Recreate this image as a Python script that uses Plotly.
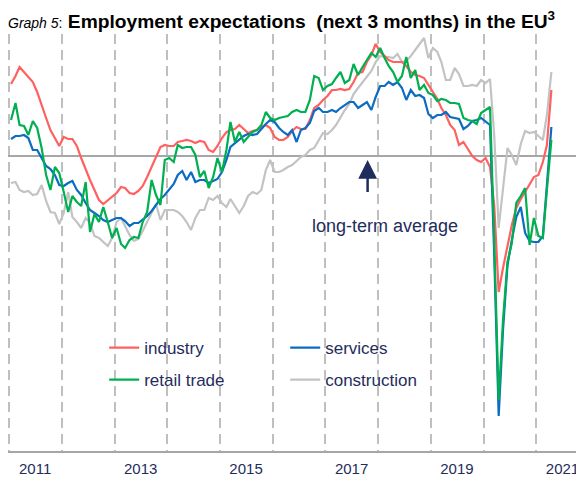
import plotly.graph_objects as go
import pandas as pd

# monthly observations, Jan 2011 - Apr 2021 (plotted mid-month)
months = pd.date_range("2011-01-01", periods=124, freq="MS") + pd.Timedelta(days=14)

# values relative to the long-term average (0)
industry = [
    7.2, 8.0, 8.9, 8.4, 7.9, 7.4, 6.4, 5.2, 3.8, 2.6, 1.8, 1.0,
    1.9, 1.7, 1.7, 1.0, -0.2, -1.4, -2.4, -3.4, -4.4, -4.8, -4.4, -4.1,
    -3.7, -3.1, -3.2, -3.7, -3.8, -3.5, -3.0, -2.1, -1.1, -0.2, 0.9, 1.1,
    1.0, 1.0, 1.4, 1.5, 1.6, 1.5, 1.3, 1.5, 1.4, 0.6, 0.4, 1.0,
    1.8, 2.4, 2.6, 2.7, 3.1, 2.7, 2.3, 2.5, 2.6, 2.9, 3.1, 2.8,
    1.9, 1.6, 1.6, 1.9, 2.5, 2.9, 2.7, 2.7, 3.6, 4.8, 5.1, 5.6,
    6.0, 6.6, 6.6, 6.7, 6.6, 6.7, 7.4, 8.3, 8.4, 9.4, 10.1, 11.2,
    10.4, 10.0, 9.6, 9.4, 9.4, 9.4, 9.0, 8.4, 8.1, 8.0, 7.8, 7.1,
    6.4, 5.7, 4.8, 4.1, 3.1, 2.6, 1.1, 1.4, 0.7, 0.0, -0.4, -0.6,
    -0.2, -1.1, -4.9, -13.6, -11.2, -8.9, -6.9, -5.2, -4.3, -3.6, -2.9, -2.1,
    -1.9, -0.6, 1.1, 6.6,
]
services = [
    1.7, 2.0, 2.0, 2.1, 1.8, 0.6, 0.6, -0.2, -1.0, -1.3, -1.9, -2.9,
    -3.0, -2.7, -2.5, -3.4, -3.9, -4.7, -5.4, -5.7, -6.0, -6.4, -6.6, -6.4,
    -6.2, -6.2, -6.5, -7.0, -6.7, -6.7, -6.4, -6.0, -5.5, -4.9, -4.3, -3.9,
    -3.4, -2.8, -1.9, -1.5, -2.4, -1.6, -2.6, -2.4, -2.4, -2.7, -2.5, -2.3,
    -1.6, -0.4, 0.9, 1.3, 1.6, 2.0, 2.2, 2.1, 2.2, 2.7, 3.2, 3.6,
    3.4, 2.8, 2.4, 2.1, 2.6, 1.4, 2.6, 2.8, 3.3, 4.5, 4.8, 4.4,
    4.4, 4.6, 4.4, 4.8, 5.1, 5.4, 5.4, 4.8, 5.1, 5.4, 4.6, 5.9,
    7.0, 7.0, 7.4, 7.1, 7.4, 6.8, 5.6, 6.6, 6.0, 6.1, 5.8, 4.2,
    3.8, 4.1, 4.1, 4.4, 3.9, 3.8, 3.7, 2.7, 3.0, 3.5, 3.6, 3.8,
    3.4, 3.1, -9.9, -26.0, -17.4, -10.9, -8.4, -6.1, -5.1, -7.7, -8.5, -8.6,
    -8.6, -8.0, -2.9, 2.9,
]
retail_trade = [
    3.6, 5.3, 3.1, 3.0, 2.1, 3.5, 2.8, 0.8, -1.9, -3.4, -1.1, -1.7,
    -3.6, -5.6, -4.0, -4.6, -5.0, -2.6, -7.6, -5.8, -6.6, -5.1, -6.6, -8.2,
    -7.2, -8.8, -9.2, -8.4, -8.1, -8.2, -6.6, -5.6, -2.4, -3.9, -4.9, -0.4,
    -0.2, -0.6, 1.1, 0.8, 0.9, 0.9, 0.1, -2.1, -1.5, -3.2, -2.1, -0.2,
    -1.6, 0.6, 3.4, 1.4, 2.4, 1.4, 1.9, 2.4, 2.6, 3.1, 4.4, 3.8,
    3.6, 3.8, 3.9, 4.0, 4.4, 4.6, 4.4, 4.4, 5.6, 8.0, 7.8, 6.6,
    7.0, 7.2, 7.8, 8.4, 7.3, 7.6, 9.2, 8.1, 8.9, 9.6, 10.3, 9.9,
    10.8, 9.8, 9.0, 8.4, 7.4, 8.0, 9.9, 7.8, 8.6, 6.6, 7.1, 6.3,
    6.1, 5.5, 5.7, 5.6, 5.3, 5.3, 5.2, 3.8, 3.6, 3.5, 3.2, 4.3,
    4.6, 4.9, -8.4, -24.4, -16.4, -10.6, -8.7, -4.7, -4.0, -3.2, -8.9, -6.2,
    -8.0, -8.2, -3.4, 1.6,
]
construction = [
    -2.7, -2.6, -3.4, -3.6, -3.5, -3.9, -3.8, -2.9, -4.5, -5.6, -5.7, -6.8,
    -5.7, -3.6, -6.1, -6.6, -7.2, -6.2, -6.7, -8.0, -8.2, -8.6, -9.0, -8.2,
    -6.6, -6.2, -7.0, -7.9, -8.5, -8.3, -7.5, -6.6, -5.6, -4.8, -6.4, -5.4,
    -5.4, -5.4, -5.6, -6.0, -6.6, -7.4, -6.2, -5.4, -5.4, -4.2, -4.4, -4.0,
    -4.7, -5.1, -4.3, -5.0, -5.7, -5.0, -4.0, -3.6, -3.8, -3.4, -1.4, -0.4,
    -1.6, -1.6, -1.4, -1.1, -0.9, -0.5, -0.1, 0.1, 0.6, 0.8, 1.5, 2.3,
    2.2, 2.6, 3.1, 3.9, 4.6, 5.2, 6.2, 6.8, 7.4, 7.9, 8.5, 9.4,
    10.0, 9.9, 9.9, 9.8, 10.2, 9.4, 9.5, 10.0, 10.6, 11.1, 11.8, 9.8,
    10.8, 10.4, 9.4, 7.6, 7.6, 8.8, 8.2, 7.0, 7.0, 7.1, 7.0, 7.6,
    7.3, 7.7, 2.1, -7.2, -3.4, 0.8, 0.1, -0.9, 1.2, 2.5, 2.3, 2.4,
    2.0, 1.6, 4.1, 8.4,
]

label_years = ["2011", "2013", "2015", "2017", "2019", "2021"]
grid_years = [str(y) for y in range(2011, 2022)]

NAVY = "#1F2D5C"
FONT = "Liberation Sans, Arial, sans-serif"

fig = go.Figure()

# construction drawn first so the others sit on top
series = [
    ("construction", construction, "#C3C3C3", "legend2", 2),
    ("industry", industry, "#FF6060", "legend", 1),
    ("services", services, "#0A6CC2", "legend", 2),
    ("retail trade", retail_trade, "#00AF50", "legend2", 1),
]
for name, vals, col, leg, rank in series:
    fig.add_trace(go.Scatter(
        x=months, y=vals, mode="lines", name=name,
        line=dict(color=col, width=2.2),
        legend=leg, legendrank=rank,
    ))

# white panel behind the legend hides the dashed year lines
fig.add_shape(type="rect", xref="paper", yref="paper",
              x0=0.10, x1=0.765, y0=0.125, y1=0.305,
              fillcolor="white", line_width=0, layer="between")

# arrow pointing at the long-term average
fig.add_annotation(x="2017-10-20", y=-0.4, ax=0, ay=42, text=" ",
                   showarrow=True, arrowhead=2, arrowsize=1.5,
                   arrowwidth=2.5, arrowcolor=NAVY)
fig.add_annotation(x="2018-02-15", y=-7.0, text="long-term average",
                   showarrow=False, font=dict(size=18, color=NAVY, family=FONT))

legend_style = dict(
    orientation="h", xanchor="left", yanchor="middle",
    entrywidth=136, entrywidthmode="pixels",
    bgcolor="rgba(0,0,0,0)",
    font=dict(size=17, color=NAVY, family=FONT),
)

# the page body adds an 8px offset, so the figure is 8px smaller each way
fig.update_layout(
    width=576, height=471,
    margin=dict(l=0, r=0, t=26, b=28),
    paper_bgcolor="white", plot_bgcolor="white",
    showlegend=True,
    legend=dict(x=0.167, y=0.247, **legend_style),
    legend2=dict(x=0.167, y=0.170, **legend_style),
    title=dict(
        text="<i><span style='font-size:14px'>Graph 5</span></i>"
             "<span style='font-size:14px'>:</span> "
             "<b>Employment expectations  (next 3 months) in the EU"
             "<sup style='font-size:13px'>3</sup></b>",
        x=0, xanchor="left", xref="container",
        y=1 - 13 / 471, yanchor="middle", yref="container",
        pad=dict(l=0, r=0, t=0, b=0),
        font=dict(size=19.2, color="black", family=FONT),
    ),
    xaxis=dict(
        type="date",
        range=["2010-12-25", "2021-11-27"],
        tickmode="array",
        tickvals=[f"{y}-07-01" for y in label_years],
        ticktext=label_years,
        ticks="outside", ticklen=3, tickcolor="rgba(0,0,0,0)",
        tickfont=dict(size=15, color=NAVY, family=FONT),
        showgrid=False,
        showline=True, linecolor="#A6A6A6", linewidth=2,
        minor=dict(
            tickmode="array",
            tickvals=[f"{y}-01-01" for y in grid_years],
            showgrid=True, gridcolor="#BFBFBF", gridwidth=2,
            griddash="10px,6px", ticks="",
        ),
        zeroline=False,
    ),
    yaxis=dict(
        range=[-29.5, 12.2],
        showticklabels=False, showgrid=False,
        zeroline=True, zerolinecolor="#A6A6A6", zerolinewidth=2,
        showline=False, ticks="",
    ),
)

fig.write_html("out.html")
